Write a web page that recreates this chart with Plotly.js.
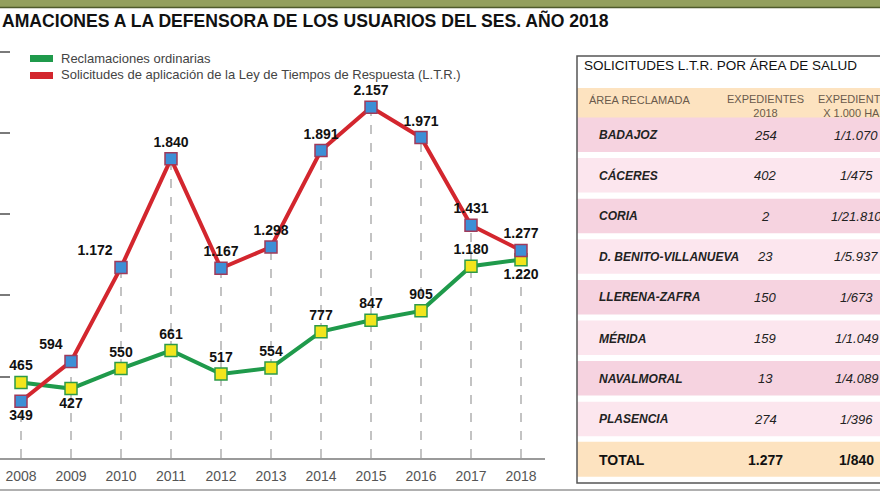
<!DOCTYPE html>
<html><head><meta charset="utf-8">
<script src="https://cdn.plot.ly/plotly-3.0.1.min.js"></script>
<style>html,body{margin:0;padding:0;background:#fff}#chart{width:880px;height:495px}</style>
</head><body><div id="chart"></div>
<script>
// ---- data ----
var years = [2008, 2009, 2010, 2011, 2012, 2013, 2014, 2015, 2016, 2017, 2018];
var ordinarias = [465, 427, 550, 661, 517, 554, 777, 847, 905, 1180, 1220];
var solicitudesLTR = [349, 594, 1172, 1840, 1167, 1298, 1891, 2157, 1971, 1431, 1277];
var seriesNames = ["Reclamaciones ordinarias", "Solicitudes de aplicación de la Ley de Tiempos de Respuesta (L.T.R.)"];
var chartTitle = "AMACIONES A LA DEFENSORA DE LOS USUARIOS DEL SES. AÑO 2018";

var tableTitle = "SOLICITUDES L.T.R. POR ÁREA DE SALUD";
var tableHeaders = ["ÁREA RECLAMADA", "EXPEDIENTES<br>2018", "EXPEDIENTES<br>X 1.000 HAB."];
var areas = ["BADAJOZ", "CÁCERES", "CORIA", "D. BENITO-VILLANUEVA", "LLERENA-ZAFRA", "MÉRIDA", "NAVALMORAL", "PLASENCIA"];
var expedientes = ["254", "402", "2", "23", "150", "159", "13", "274"];
var ratio = ["1/1.070", "1/475", "1/21.810", "1/5.937", "1/673", "1/1.049", "1/4.089", "1/396"];
var totalRow = ["TOTAL", "1.277", "1/840"];

// ---- styling helpers ----
var W = 880, H = 495;
function X(px){ return px / W; }
function Y(py){ return 1 - py / H; }
var SANS = '"Liberation Sans", Arial, sans-serif';

var greenPos = ["top center","bottom center","top center","top center","top center","top center","top center","top center","top center","top center","bottom center"];
var redPos = ["bottom center","top left","top left","top center","top center","top center","top center","top center","top center","top center","top center"];

var traces = [
  {x: years, y: ordinarias, name: seriesNames[0], type: 'scatter', mode: 'lines+markers+text',
   line: {color: '#1f9a4b', width: 4},
   marker: {symbol: 'square', size: 12, color: '#f2e51c', line: {color: '#2e9a48', width: 1.5}},
   texttemplate: '<b>%{y:,}</b>', textposition: greenPos, cliponaxis: false,
   textfont: {family: SANS, size: 14, color: '#111'}},
  {x: years, y: solicitudesLTR, name: seriesNames[1], type: 'scatter', mode: 'lines+markers+text',
   line: {color: '#d3262e', width: 4},
   marker: {symbol: 'square', size: 12, color: '#3d8fd6', line: {color: '#a03a5a', width: 1.5}},
   texttemplate: '<b>%{y:,}</b>', textposition: redPos, cliponaxis: false,
   textfont: {family: SANS, size: 14, color: '#111'}}
];

var shapes = [];
// vertical dashed guides from each year's upper point to the axis
years.forEach(function(yr, i){
  shapes.push({type: 'line', xref: 'x', yref: 'y', x0: yr, x1: yr, y0: 0,
    y1: Math.max(ordinarias[i], solicitudesLTR[i]), layer: 'below',
    line: {color: '#9c9c9c', width: 1.2, dash: 'dash'}});
});
// top band
shapes.push({type: 'rect', xref: 'paper', yref: 'paper', x0: 0, x1: 1, y0: Y(7), y1: 1, line: {width: 0}, fillcolor: '#939f5d', layer: 'below'});
shapes.push({type: 'line', xref: 'paper', yref: 'paper', x0: 0, x1: 1, y0: Y(7.5), y1: Y(7.5), line: {color: '#4e5a2b', width: 1.5}});
// bottom rule
shapes.push({type: 'line', xref: 'paper', yref: 'paper', x0: 0, x1: 1, y0: Y(490), y1: Y(490), line: {color: '#b0b0b0', width: 2}});
// legend swatches
shapes.push({type: 'rect', xref: 'paper', yref: 'paper', x0: X(30), x1: X(53), y0: Y(62), y1: Y(55), line: {width: 0}, fillcolor: '#1f9a4b'});
shapes.push({type: 'rect', xref: 'paper', yref: 'paper', x0: X(30), x1: X(53), y0: Y(79), y1: Y(72), line: {width: 0}, fillcolor: '#d3262e'});

// table
var tL = 577, tR = 900;
shapes.push({type: 'rect', xref: 'paper', yref: 'paper', x0: X(tL), x1: X(tR), y0: Y(88), y1: Y(118), line: {width: 0}, fillcolor: '#fde3c0', layer: 'below'});
var rowPitch = 40.6, row0 = 135;
areas.forEach(function(a, i){
  var c = row0 + rowPitch * i;
  shapes.push({type: 'rect', xref: 'paper', yref: 'paper', x0: X(tL), x1: X(tR), y0: Y(c + 17), y1: Y(c - 17.5), line: {width: 0},
    fillcolor: (i % 2 === 0) ? '#f6d3e0' : '#fce6ee', layer: 'below'});
});
var cT = row0 + rowPitch * areas.length;
shapes.push({type: 'rect', xref: 'paper', yref: 'paper', x0: X(tL), x1: X(tR), y0: Y(cT + 17), y1: Y(cT - 18), line: {width: 0}, fillcolor: '#fde3c0', layer: 'below'});
shapes.push({type: 'rect', xref: 'paper', yref: 'paper', x0: X(tL), x1: X(tR), y0: Y(483), y1: Y(56), line: {color: '#555', width: 1.5}, fillcolor: 'rgba(0,0,0,0)'});

var ann = [];
ann.push({text: '<b>' + chartTitle + '</b>', xref: 'paper', yref: 'paper', x: X(0), y: Y(20), xanchor: 'left', yanchor: 'middle', showarrow: false,
  font: {family: SANS, size: 17.6, color: '#111'}});
ann.push({text: seriesNames[0], xref: 'paper', yref: 'paper', x: X(59), y: Y(59), xanchor: 'left', yanchor: 'middle', showarrow: false,
  font: {family: SANS, size: 13, color: '#444'}});
ann.push({text: seriesNames[1], xref: 'paper', yref: 'paper', x: X(59), y: Y(75), xanchor: 'left', yanchor: 'middle', showarrow: false,
  font: {family: SANS, size: 13, color: '#444'}});
ann.push({text: tableTitle, xref: 'paper', yref: 'paper', x: X(582), y: Y(66), xanchor: 'left', yanchor: 'middle', showarrow: false,
  font: {family: SANS, size: 13.5, color: '#111'}});
var hdrFont = {family: SANS, size: 11, color: '#6a5a4c'};
ann.push({text: tableHeaders[0], xref: 'paper', yref: 'paper', x: X(587), y: Y(100), xanchor: 'left', yanchor: 'middle', showarrow: false, font: hdrFont});
ann.push({text: tableHeaders[1], xref: 'paper', yref: 'paper', x: X(765), y: Y(106), xanchor: 'center', yanchor: 'middle', showarrow: false, align: 'center', font: hdrFont});
ann.push({text: tableHeaders[2], xref: 'paper', yref: 'paper', x: X(856), y: Y(106), xanchor: 'center', yanchor: 'middle', showarrow: false, align: 'center', font: hdrFont});
var rowFont = {family: SANS, size: 12, color: '#222'};
areas.forEach(function(a, i){
  var c = row0 + rowPitch * i;
  ann.push({text: '<b><i>' + a + '</i></b>', xref: 'paper', yref: 'paper', x: X(597), y: Y(c), xanchor: 'left', yanchor: 'middle', showarrow: false, font: rowFont});
  ann.push({text: '<i>' + expedientes[i] + '</i>', xref: 'paper', yref: 'paper', x: X(765), y: Y(c), xanchor: 'center', yanchor: 'middle', showarrow: false, font: {family: SANS, size: 13, color: '#222'}});
  ann.push({text: '<i>' + ratio[i] + '</i>', xref: 'paper', yref: 'paper', x: X(856), y: Y(c), xanchor: 'center', yanchor: 'middle', showarrow: false, font: {family: SANS, size: 13, color: '#222'}});
});
var totFont = {family: SANS, size: 14, color: '#111'};
ann.push({text: '<b>' + totalRow[0] + '</b>', xref: 'paper', yref: 'paper', x: X(597), y: Y(cT), xanchor: 'left', yanchor: 'middle', showarrow: false, font: totFont});
ann.push({text: '<b>' + totalRow[1] + '</b>', xref: 'paper', yref: 'paper', x: X(765), y: Y(cT), xanchor: 'center', yanchor: 'middle', showarrow: false, font: totFont});
ann.push({text: '<b>' + totalRow[2] + '</b>', xref: 'paper', yref: 'paper', x: X(856), y: Y(cT), xanchor: 'center', yanchor: 'middle', showarrow: false, font: totFont});

var layout = {
  width: W, height: H, margin: {l: 0, r: 0, t: 0, b: 0},
  paper_bgcolor: '#fff', plot_bgcolor: 'rgba(0,0,0,0)',
  showlegend: false, separators: ',.',
  xaxis: {domain: [0, 545 / W], range: [2007.58, 2018.48], tickvals: years, ticktext: years.map(String),
    showgrid: false, zeroline: false, showline: true, linecolor: '#9a9a9a', linewidth: 2, ticks: '',
    ticklabelstandoff: 4,
    tickfont: {family: SANS, size: 14, color: '#555'}, fixedrange: true},
  yaxis: {domain: [37 / H, 1 - 40 / H], range: [0, 2571], tick0: 0, dtick: 500,
    showgrid: false, zeroline: false, showline: false, showticklabels: false,
    ticks: 'inside', ticklen: 10, tickwidth: 2, tickcolor: '#7a7a7a', fixedrange: true},
  shapes: shapes, annotations: ann
};
Plotly.newPlot('chart', traces, layout, {staticPlot: true, displayModeBar: false});
</script></body></html>
